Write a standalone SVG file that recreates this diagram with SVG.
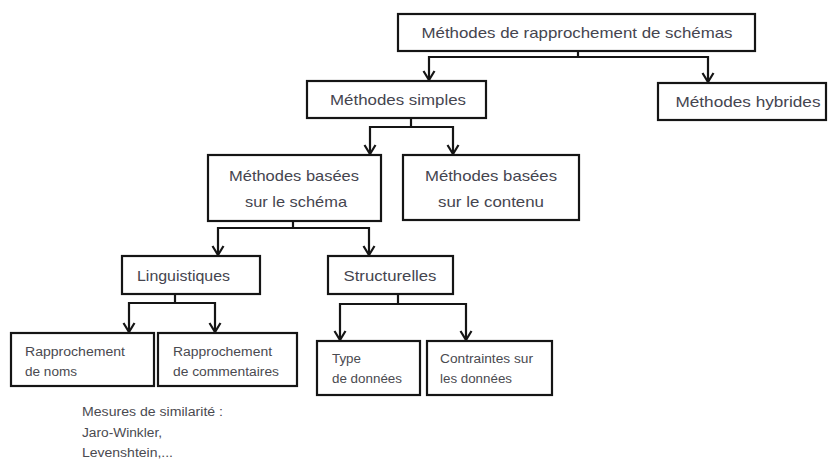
<svg xmlns="http://www.w3.org/2000/svg" width="829" height="459" viewBox="0 0 829 459">
<defs>
<style>
.box{fill:#fff;stroke:#151515;stroke-width:2.2}
.t{font-family:"Liberation Sans",Arial,sans-serif;font-size:14.5px;fill:#45454f}
.s{font-family:"Liberation Sans",Arial,sans-serif;font-size:12px;fill:#4a4a50}
.c{text-anchor:middle}
.con{fill:none;stroke:#151515;stroke-width:2.2;marker-end:url(#arr)}
</style>
<marker id="arr" viewBox="0 0 12 14" refX="11" refY="7" markerWidth="12" markerHeight="14" markerUnits="userSpaceOnUse" orient="auto">
<path d="M2,1.5 L11,7 L2,12.5" fill="none" stroke="#151515" stroke-width="2.2"/>
</marker>
</defs>
<rect width="829" height="459" fill="#fff"/>
<g id="connectors">
<path class="con" d="M578,51 V57 H429 V80"/>
<path class="con" d="M578,57 H708 V82"/>
<path class="con" d="M411,118 V127 H370 V154"/>
<path class="con" d="M411,127 H453 V154"/>
<path class="con" d="M293,221 V228 H218 V255"/>
<path class="con" d="M293,228 H369 V255"/>
<path class="con" d="M175,294 V303 H129 V332"/>
<path class="con" d="M175,303 H215 V332"/>
<path class="con" d="M398,294 V304 H340 V340"/>
<path class="con" d="M398,304 H466 V340"/>
</g>
<g id="root">
<rect class="box" x="398" y="14" width="357" height="37"/>
<text class="t c" x="577" y="38" textLength="311" lengthAdjust="spacingAndGlyphs">Méthodes de rapprochement de schémas</text>
</g>
<g id="simples">
<rect class="box" x="307" y="81" width="179" height="37"/>
<text class="t c" x="398" y="105" textLength="136" lengthAdjust="spacingAndGlyphs">Méthodes simples</text>
</g>
<g id="hybrides">
<rect class="box" x="658" y="83" width="168" height="37"/>
<text class="t c" x="748" y="107" textLength="145" lengthAdjust="spacingAndGlyphs">Méthodes hybrides</text>
</g>
<g id="schema">
<rect class="box" x="208" y="155" width="173" height="66"/>
<text class="t c" x="294" y="181" textLength="130" lengthAdjust="spacingAndGlyphs">Méthodes basées</text>
<text class="t c" x="296" y="207" textLength="102" lengthAdjust="spacingAndGlyphs">sur le schéma</text>
</g>
<g id="contenu">
<rect class="box" x="403" y="155" width="176" height="65"/>
<text class="t c" x="491" y="181" textLength="132" lengthAdjust="spacingAndGlyphs">Méthodes basées</text>
<text class="t c" x="491" y="207" textLength="106" lengthAdjust="spacingAndGlyphs">sur le contenu</text>
</g>
<g id="linguistiques">
<rect class="box" x="122" y="256" width="138" height="38"/>
<text class="t" x="137" y="281" textLength="93" lengthAdjust="spacingAndGlyphs">Linguistiques</text>
</g>
<g id="structurelles">
<rect class="box" x="328" y="256" width="125" height="38"/>
<text class="t c" x="390" y="281" textLength="93" lengthAdjust="spacingAndGlyphs">Structurelles</text>
</g>
<g id="noms">
<rect class="box" x="11" y="333" width="143" height="53"/>
<text class="s" x="25" y="356" textLength="100" lengthAdjust="spacingAndGlyphs">Rapprochement</text>
<text class="s" x="25" y="376" textLength="52" lengthAdjust="spacingAndGlyphs">de noms</text>
</g>
<g id="commentaires">
<rect class="box" x="158" y="333" width="139" height="53"/>
<text class="s" x="173" y="356" textLength="99" lengthAdjust="spacingAndGlyphs">Rapprochement</text>
<text class="s" x="173" y="376" textLength="106" lengthAdjust="spacingAndGlyphs">de commentaires</text>
</g>
<g id="type">
<rect class="box" x="317" y="341" width="103" height="54"/>
<text class="s" x="332" y="363" textLength="29" lengthAdjust="spacingAndGlyphs">Type</text>
<text class="s" x="332" y="383" textLength="70" lengthAdjust="spacingAndGlyphs">de données</text>
</g>
<g id="contraintes">
<rect class="box" x="427" y="341" width="125" height="54"/>
<text class="s" x="440" y="363" textLength="93" lengthAdjust="spacingAndGlyphs">Contraintes sur</text>
<text class="s" x="440" y="383" textLength="72" lengthAdjust="spacingAndGlyphs">les données</text>
</g>
<g id="note">
<text class="s" x="82" y="416" textLength="141" lengthAdjust="spacingAndGlyphs">Mesures de similarité :</text>
<text class="s" x="82" y="437" textLength="80" lengthAdjust="spacingAndGlyphs">Jaro-Winkler,</text>
<text class="s" x="82" y="457" textLength="91" lengthAdjust="spacingAndGlyphs">Levenshtein,...</text>
</g>
</svg>
